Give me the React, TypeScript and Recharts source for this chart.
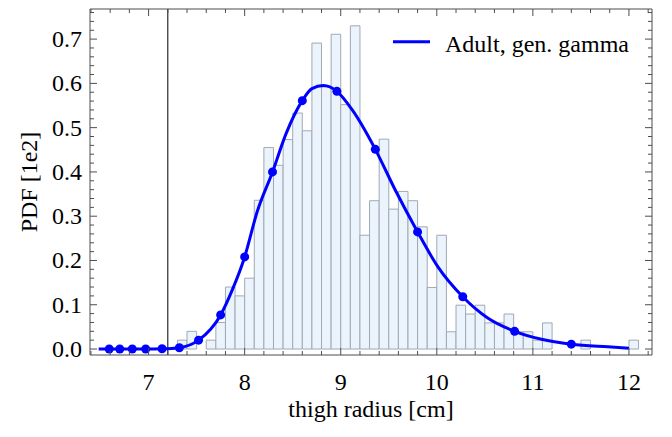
import {
  ComposedChart,
  Line,
  Scatter,
  XAxis,
  YAxis,
  ReferenceArea,
  ReferenceLine,
  Legend,
  Label,
} from "recharts";

const FONT = '"Liberation Serif", "Times New Roman", serif';
const FRAME = "#4d4d4d";
const CURVE = "#0000ff";
const BAR_FILL = "#ebf4fd";
const BAR_EDGE = "#a0a9b4";

// histogram: left edge of each bin (bin width 0.1) and its height
const BIN_WIDTH = 0.1;
const binStart = [
  7.3, 7.4, 7.6, 7.7, 7.8, 7.9, 8.0, 8.1, 8.2, 8.3, 8.4, 8.5, 8.6, 8.7, 8.8,
  8.9, 9.0, 9.1, 9.2, 9.3, 9.4, 9.5, 9.6, 9.7, 9.8, 9.9, 10.0, 10.1, 10.2,
  10.3, 10.4, 10.5, 10.6, 10.7, 10.8, 10.9, 11.0, 11.1, 11.5, 12.0,
];
const binHeight = [
  0.02, 0.04, 0.02, 0.06, 0.14, 0.12, 0.16, 0.336, 0.455, 0.415, 0.473, 0.533,
  0.493, 0.691, 0.592, 0.711, 0.552, 0.73, 0.257, 0.335, 0.474, 0.316, 0.356,
  0.335, 0.276, 0.139, 0.257, 0.039, 0.099, 0.079, 0.099, 0.059, 0.059, 0.079,
  0.039, 0.039, 0.02, 0.059, 0.02, 0.02,
];

// fitted generalized gamma pdf
const curveX = [
  6.48, 6.59, 6.7, 6.83, 6.97, 7.14, 7.32, 7.52, 7.75, 7.87, 8.0, 8.13, 8.29,
  8.43, 8.6, 8.7, 8.82, 8.96, 9.12, 9.36, 9.57, 9.8, 10.01, 10.27, 10.53,
  10.81, 11.09, 11.4, 11.78, 12.0,
];
const curveY = [
  0, 0, 0, 0, 0, 0.0005, 0.003, 0.02, 0.077, 0.133, 0.208, 0.31, 0.4, 0.486,
  0.561, 0.588, 0.595, 0.582, 0.54, 0.451, 0.358, 0.2645, 0.186, 0.118, 0.07,
  0.04, 0.022, 0.011, 0.005, 0.002,
];

// mesh points drawn on the curve
const markerX = [
  6.59, 6.7, 6.83, 6.97, 7.14, 7.32, 7.52, 7.75, 8.0, 8.29, 8.6, 8.96, 9.36,
  9.8, 10.27, 10.81, 11.4,
];
const markerY = [
  0, 0, 0, 0, 0.0005, 0.003, 0.02, 0.077, 0.208, 0.4, 0.561, 0.582, 0.451,
  0.2645, 0.118, 0.04, 0.011,
];

const xTicks = [
  6.4, 6.6, 6.8, 7, 7.2, 7.4, 7.6, 7.8, 8, 8.2, 8.4, 8.6, 8.8, 9, 9.2, 9.4,
  9.6, 9.8, 10, 10.2, 10.4, 10.6, 10.8, 11, 11.2, 11.4, 11.6, 11.8, 12, 12.2,
];
const yTicks = [
  0, 0.02, 0.04, 0.06, 0.08, 0.1, 0.12, 0.14, 0.16, 0.18, 0.2, 0.22, 0.24,
  0.26, 0.28, 0.3, 0.32, 0.34, 0.36, 0.38, 0.4, 0.42, 0.44, 0.46, 0.48, 0.5,
  0.52, 0.54, 0.56, 0.58, 0.6, 0.62, 0.64, 0.66, 0.68, 0.7, 0.72, 0.74, 0.76,
];

const X_DOMAIN = [6.39, 12.24];
const Y_DOMAIN = [-0.0135, 0.768];

const curve = curveX.map((x, i) => ({ x, y: curveY[i] }));
const markers = markerX.map((x, i) => ({ x, y: markerY[i] }));

const MAJOR = 7;
const MINOR = 4;
const isMajorX = (v: number) => Math.abs(v - Math.round(v)) < 1e-6;
const isMajorY = (v: number) => Math.abs(v * 10 - Math.round(v * 10)) < 1e-6;

const textStyle = { fontFamily: FONT, fontSize: 24, fill: "#000" };

function BottomTick(props: any) {
  const { x, y, payload } = props;
  const major = isMajorX(payload.value);
  return (
    <g>
      <line x1={x} x2={x} y1={y} y2={y - (major ? MAJOR : MINOR)} stroke={FRAME} />
      {major && (
        <text x={x} y={y + 35} textAnchor="middle" style={textStyle}>
          {payload.value}
        </text>
      )}
    </g>
  );
}

function TopTick(props: any) {
  const { x, y, payload } = props;
  const major = isMajorX(payload.value);
  return <line x1={x} x2={x} y1={y} y2={y + (major ? MAJOR : MINOR)} stroke={FRAME} />;
}

function LeftTick(props: any) {
  const { x, y, payload } = props;
  const major = isMajorY(payload.value);
  return (
    <g>
      <line x1={x} x2={x + (major ? MAJOR : MINOR)} y1={y} y2={y} stroke={FRAME} />
      {major && (
        <text x={x - 8} y={y + 8} textAnchor="end" style={textStyle}>
          {payload.value.toFixed(1)}
        </text>
      )}
    </g>
  );
}

function RightTick(props: any) {
  const { x, y, payload } = props;
  const major = isMajorY(payload.value);
  return <line x1={x} x2={x - (major ? MAJOR : MINOR)} y1={y} y2={y} stroke={FRAME} />;
}

function YTitle(props: any) {
  const { viewBox } = props;
  const cx = 37;
  const cy = viewBox.y + viewBox.height / 2;
  return (
    <text x={cx} y={cy} textAnchor="middle" transform={`rotate(-90 ${cx} ${cy})`} style={textStyle}>
      PDF [1e2]
    </text>
  );
}

function XTitle(props: any) {
  const { viewBox } = props;
  const cx = viewBox.x + viewBox.width / 2;
  return (
    <text x={cx} y={417} textAnchor="middle" style={textStyle}>
      thigh radius [cm]
    </text>
  );
}

function LegendBox() {
  return (
    <svg width={270} height={44}>
      <line x1={5} x2={42} y1={21.7} y2={21.7} stroke={CURVE} strokeWidth={3} />
      <text x={57} y={31.5} style={textStyle}>
        Adult, gen. gamma
      </text>
    </svg>
  );
}

function Dot(props: any) {
  return <circle cx={props.cx} cy={props.cy} r={4.5} fill={CURVE} />;
}

export default function App() {
  return (
    <div style={{ position: "absolute", left: 0, top: 0, width: 672, height: 437, background: "#fff" }}>
      <ComposedChart width={672} height={437} margin={{ top: 8, right: 19, bottom: 0, left: 0 }}>
        <XAxis
          xAxisId="b"
          type="number"
          dataKey="x"
          domain={X_DOMAIN}
          allowDataOverflow
          ticks={xTicks}
          interval={0}
          tickLine={false}
          tickSize={0}
          tickMargin={0}
          tick={<BottomTick />}
          height={82}
          axisLine={{ stroke: FRAME }}
        >
          <Label content={<XTitle />} />
        </XAxis>
        <XAxis
          xAxisId="t"
          orientation="top"
          type="number"
          dataKey="x"
          domain={X_DOMAIN}
          allowDataOverflow
          ticks={xTicks}
          interval={0}
          tickLine={false}
          tickSize={0}
          tickMargin={0}
          tick={<TopTick />}
          height={1}
          axisLine={{ stroke: FRAME }}
        />
        <YAxis
          yAxisId="l"
          type="number"
          dataKey="y"
          domain={Y_DOMAIN}
          allowDataOverflow
          ticks={yTicks}
          interval={0}
          tickLine={false}
          tickSize={0}
          tickMargin={0}
          tick={<LeftTick />}
          width={90}
          axisLine={{ stroke: FRAME }}
        >
          <Label content={<YTitle />} />
        </YAxis>
        <YAxis
          yAxisId="r"
          orientation="right"
          type="number"
          dataKey="y"
          domain={Y_DOMAIN}
          allowDataOverflow
          ticks={yTicks}
          interval={0}
          tickLine={false}
          tickSize={0}
          tickMargin={0}
          tick={<RightTick />}
          width={1}
          axisLine={{ stroke: FRAME }}
        />

        {binStart.map((lo, i) => (
          <ReferenceArea
            key={`bin-${i}`}
            xAxisId="b"
            yAxisId="l"
            x1={lo}
            x2={lo + BIN_WIDTH}
            y1={0}
            y2={binHeight[i]}
            fill={BAR_FILL}
            fillOpacity={1}
            stroke={BAR_EDGE}
            strokeWidth={1}
            ifOverflow="visible"
          />
        ))}
        <ReferenceLine xAxisId="b" yAxisId="l" x={7.2} stroke="#000" strokeWidth={1} />

        {/* invisible twin of the curve so the top/right frame axes get data */}
        <Line
          xAxisId="t"
          yAxisId="r"
          data={curve}
          dataKey="y"
          stroke="none"
          dot={false}
          activeDot={false}
          legendType="none"
          isAnimationActive={false}
        />
        <Line
          xAxisId="b"
          yAxisId="l"
          data={curve}
          dataKey="y"
          type="monotone"
          stroke={CURVE}
          strokeWidth={3}
          dot={false}
          isAnimationActive={false}
        />
        <Scatter
          xAxisId="b"
          yAxisId="l"
          data={markers}
          dataKey="y"
          fill={CURVE}
          shape={<Dot />}
          isAnimationActive={false}
        />
        <Legend
          layout="horizontal"
          verticalAlign="middle"
          align="center"
          content={<LegendBox />}
          wrapperStyle={{ left: 388, top: 20, width: 270, height: 44 }}
        />
      </ComposedChart>
    </div>
  );
}
